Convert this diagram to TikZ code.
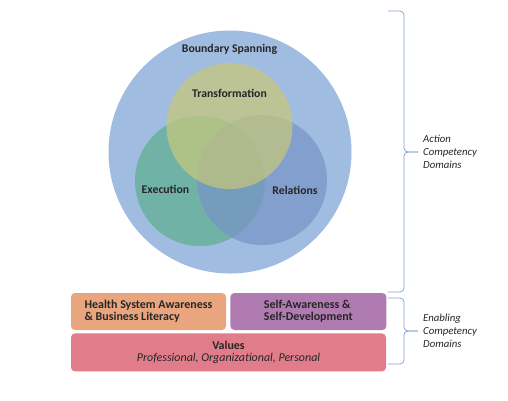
\documentclass[tikz,border=0pt]{standalone}
\usepackage{fontspec}
\setmainfont{Carlito}
\usepackage{xcolor}
\usetikzlibrary{positioning}
\definecolor{spanblue}{RGB}{160,188,224}
\definecolor{execgreen}{RGB}{94,174,144}
\definecolor{relblue}{RGB}{120,148,198}
\definecolor{transyellow}{RGB}{200,200,120}
\definecolor{healthorange}{RGB}{232,165,126}
\definecolor{selfpurple}{RGB}{176,123,176}
\definecolor{valuespink}{RGB}{225,125,139}
\definecolor{bracecol}{RGB}{130,165,210}
\definecolor{inktext}{RGB}{38,38,38}

\begin{document}
\begin{tikzpicture}[x=1bp,y=-1bp]
\tikzset{venn/.style={circle,inner sep=0pt,fill opacity=0.7},
  ringlabel/.style={inner sep=0pt,text=inktext,font=\fontsize{11.8}{13}\selectfont\bfseries},
  competencybox/.style={rectangle,rounded corners=4bp,inner sep=0pt,text=inktext,font=\fontsize{12}{12.3}\selectfont\bfseries,minimum height=37bp},
  bracelabel/.style={inner sep=0pt,anchor=west,align=left,text=inktext,font=\fontsize{10.8}{13.3}\selectfont\itshape},
  bracepath/.style={draw=bracecol,line width=0.8bp,rounded corners=4bp}}
\useasboundingbox (0,0) rectangle (508,400);
% circles
\node[circle,inner sep=0pt,fill=spanblue,minimum size=243bp](span) at (230,152){};
\node[venn,fill=execgreen,minimum size=130bp](exec) at (200,181){};
\node[venn,fill=relblue,minimum size=130bp](rel) at (262,180){};
\node[venn,fill=transyellow,minimum size=126bp](trans) at (229.5,126){};
\node[ringlabel](spanlabel) at (229.5,49){Boundary Spanning};
\node[ringlabel](translabel) at (229.5,93){Transformation};
\node[ringlabel](execlabel) at (165.5,189){Execution};
\node[ringlabel](rellabel) at (295,190){Relations};
% enabling boxes
\node[competencybox,fill=healthorange,minimum width=155bp,align=left](health) at (148.5,311.5){Health System Awareness\\\& Business Literacy};
\node[competencybox,fill=selfpurple,minimum width=156bp,align=left](self)[right=4bp of health]{Self-Awareness \&\\Self-Development};
\node[competencybox,fill=valuespink,minimum width=315bp,minimum height=38bp,align=center](values)[below=3bp of health.south west,anchor=north west]{Values\\{\mdseries\itshape Professional, Organizational, Personal}};
% braces
\coordinate (acttop) at (388,11);
\coordinate (actbot) at (388,292);
\coordinate (actmid) at (404,152);
\coordinate (acttip) at (418,152);
\draw[bracepath] (acttop) -| (actmid) -- (acttip);
\draw[bracepath] (actbot) -| (actmid) -- (acttip);
\node[bracelabel](actlabel)[right=5bp of acttip,anchor=west]{Action\\Competency\\Domains};
\coordinate (enatop) at (388,298);
\coordinate (enabot) at (388,364);
\coordinate (enamid) at (404,331);
\coordinate (enatip) at (418,331);
\draw[bracepath] (enatop) -| (enamid) -- (enatip);
\draw[bracepath] (enabot) -| (enamid) -- (enatip);
\node[bracelabel](enalabel)[right=5bp of enatip,anchor=west]{Enabling\\Competency\\Domains};
\end{tikzpicture}
\end{document}
